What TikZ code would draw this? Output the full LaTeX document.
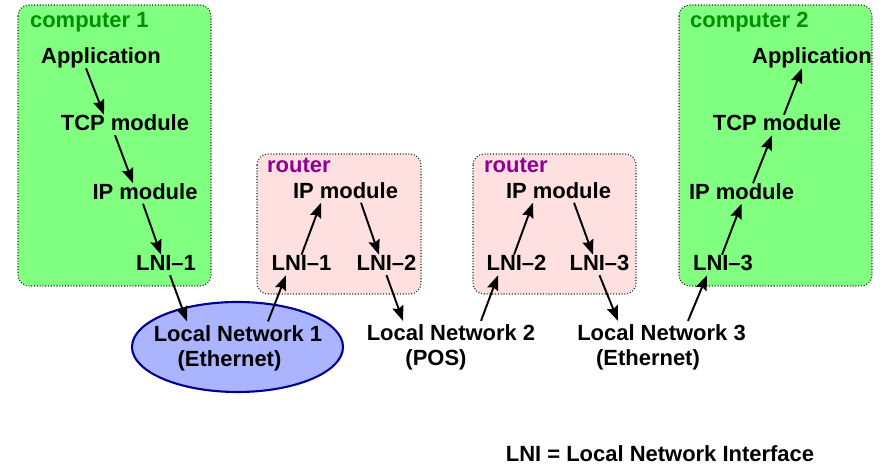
\documentclass[tikz,border=0pt]{standalone}
\usepackage{fontspec}
\setmainfont{Liberation Sans}
\usepackage{tikz}
\usetikzlibrary{positioning, arrows.meta}
\definecolor{hostgreen}{RGB}{128,255,128}
\definecolor{hostlabel}{RGB}{0,144,0}
\definecolor{routerpink}{RGB}{255,224,224}
\definecolor{routerlabel}{RGB}{144,0,144}
\definecolor{netblue}{RGB}{170,180,255}
\definecolor{netline}{RGB}{0,0,144}
\tikzset{
>={Stealth[length=8.5pt,width=6.5pt,inset=1.2pt]}, % filled arrow heads
every node/.style={font=\fontsize{12.5}{14.2}\selectfont\bfseries},
module/.style={text height=1.5ex, text depth=.25ex, inner sep=1pt}, % one layer of a stack
network/.style={align=center, inner sep=2pt}, % a local network
hostbox/.style={fill=hostgreen, draw=black!85, densely dotted, line width=0.6pt, rounded corners=0.22cm},
routerbox/.style={fill=routerpink, draw=black!85, densely dotted, line width=0.6pt, rounded corners=0.22cm},
boxlabel/.style={module, anchor=west},
link/.style={->, line width=1.1pt},
}
\begin{document}
\begin{tikzpicture}[on grid]
    \useasboundingbox (0,0) rectangle (17.78,9.36);
    % boxes
    \draw[hostbox] (0.36,9.26) rectangle (4.22,3.64);
    \draw[hostbox] (13.58,9.26) rectangle (17.44,3.64);
    \draw[routerbox] (5.14,6.28) rectangle (8.42,3.48);
    \draw[routerbox] (9.46,6.28) rectangle (12.72,3.48);
    \draw[fill=netblue, draw=netline, line width=1.2pt] (4.75,2.42) ellipse (2.11cm and 0.9cm);
    \node[boxlabel, text=hostlabel] (c1label) at (0.56,8.93) {computer 1};
    \node[boxlabel, text=hostlabel] (c2label) at (13.76,8.93) {computer 2};
    \node[boxlabel, text=routerlabel] (r1label) at (5.30,6.02) {router};
    \node[boxlabel, text=routerlabel] (r2label) at (9.64,6.02) {router};
    % computer 1
    \node[module] (app1) at (2.02,8.20) {Application};
    \node[module, below right=1.34cm and 0.48cm of app1] (tcp1) {TCP module};
    \node[module, below right=1.37cm and 0.40cm of tcp1] (ip1) {IP module};
    \node[module, below right=1.43cm and 0.42cm of ip1] (lni11) {LNI--1};
    % router 1
    \node[module] (rip1) at (6.91,5.51) {IP module};
    \node[module, below left=1.45cm and 0.88cm of rip1] (r1lni1) {LNI--1};
    \node[module, below right=1.45cm and 0.82cm of rip1] (r1lni2) {LNI--2};
    % router 2
    \node[module] (rip2) at (11.17,5.51) {IP module};
    \node[module, below left=1.45cm and 0.84cm of rip2] (r2lni2) {LNI--2};
    \node[module, below right=1.45cm and 0.82cm of rip2] (r2lni3) {LNI--3};
    % computer 2
    \node[module] (app2) at (16.24,8.20) {Application};
    \node[module, below left=1.34cm and 0.70cm of app2] (tcp2) {TCP module};
    \node[module, below left=1.37cm and 0.71cm of tcp2] (ip2) {IP module};
    \node[module, below left=1.43cm and 0.37cm of ip2] (lni23) {LNI--3};
    % networks
    \node[network] (ln1) at (4.76,2.40) {Local Network 1\\(Ethernet)\hspace*{0.34cm}};
    \node[network] (ln2) at (9.02,2.41) {Local Network 2\\(POS)\hspace*{0.6cm}};
    \node[network] (ln3) at (13.23,2.41) {Local Network 3\\(Ethernet)\hspace*{0.54cm}};
    \node (legend) at (13.2,0.28) {LNI = Local Network Interface};
    % data path
    \draw[link] ([xshift=-0.30cm]app1.south) -- ([xshift=-0.42cm]tcp1.north);
    \draw[link] ([xshift=-0.20cm]tcp1.south) -- ([xshift=-0.24cm]ip1.north);
    \draw[link] ([xshift=-0.04cm]ip1.south) -- ([xshift=-0.10cm]lni11.north);
    \draw[link] ([xshift=0.08cm]lni11.south) -- ([xshift=-1.02cm]ln1.north);
    \draw[link] ([xshift=0.60cm]ln1.north) -- ([xshift=-0.31cm]r1lni1.south);
    \draw[link] (r1lni1.north) -- ([xshift=-0.49cm]rip1.south);
    \draw[link] ([xshift=0.31cm]rip1.south) -- ([xshift=-0.15cm]r1lni2.north);
    \draw[link] (r1lni2.south) -- ([xshift=-0.96cm]ln2.north);
    \draw[link] ([xshift=0.60cm]ln2.north) -- ([xshift=-0.37cm]r2lni2.south);
    \draw[link] ([xshift=-0.05cm]r2lni2.north) -- ([xshift=-0.51cm]rip2.south);
    \draw[link] ([xshift=0.31cm]rip2.south) -- ([xshift=-0.13cm]r2lni3.north);
    \draw[link] (r2lni3.south) -- ([xshift=-0.87cm]ln3.north);
    \draw[link] ([xshift=0.53cm]ln3.north) -- ([xshift=-0.32cm]lni23.south);
    \draw[link] ([xshift=-0.02cm]lni23.north) -- (ip2.south);
    \draw[link] ([xshift=0.23cm]ip2.north) -- ([xshift=-0.10cm]tcp2.south);
    \draw[link] ([xshift=0.14cm]tcp2.north) -- ([xshift=-0.20cm]app2.south);
\end{tikzpicture}
\end{document}
